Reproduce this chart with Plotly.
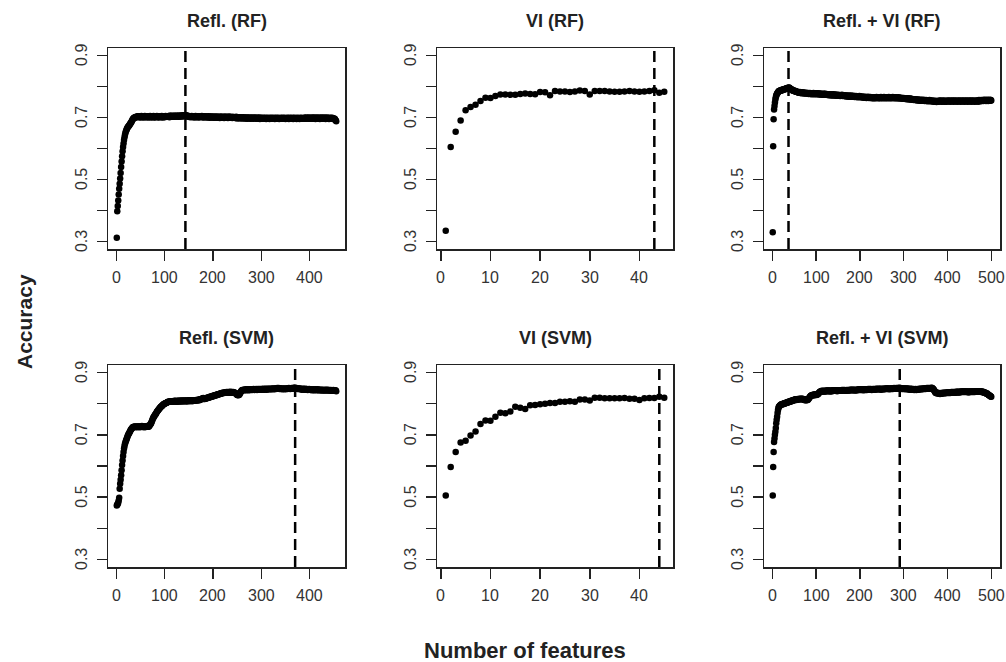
import plotly.graph_objects as go

# ---------------- data (accuracy in per-mille) ----------------
panel_titles = ["Refl. (RF)", "VI (RF)", "Refl. + VI (RF)",
                "Refl. (SVM)", "VI (SVM)", "Refl. + VI (SVM)"]

refl_rf_acc = [
    312,398,415,432,452,470,486,503,521,540,558,575,591,605,616,627,636,644,651,656,
    660,664,667,669,671,673,675,678,680,683,685,688,691,694,696,698,699,700,701,700,
    702,701,703,702,704,
    703,701,704,702,700,703,705,702,701,704,703,700,702,705,703,701,704,702,703,700,
    702,704,701,703,705,702,700,703,704,701,702,705,703,701,700,704,702,703,705,702,
    701,703,700,702,704,702,703,701,705,702,700,703,704,702,701,703,705,704,702,703,
    704,702,705,703,701,704,706,703,702,705,704,702,703,706,704,702,705,703,704,706,
    703,705,704,702,706,705,703,704,706,705,703,707,705,704,706,707,705,708,706,705,
    704,706,703,705,702,704,703,701,704,702,705,703,701,703,704,702,700,703,705,702,
    701,703,702,704,700,702,703,701,704,702,703,705,702,700,703,701,702,704,701,703,
    702,700,703,701,702,704,701,699,702,703,700,702,701,703,700,702,699,701,703,700,
    702,700,701,703,699,701,702,700,698,701,703,700,702,699,701,700,702,698,700,703,
    701,699,700,702,700,698,701,703,699,700,702,699,701,700,698,702,700,699,701,700,
    698,700,702,699,697,700,701,698,700,699,697,701,699,698,700,697,699,701,698,697,
    699,700,697,698,700,696,699,698,700,697,698,699,696,698,700,697,699,698,696,699,
    698,700,697,699,698,696,697,699,698,700,697,695,698,699,697,698,696,699,697,698,
    696,698,699,697,695,698,697,699,696,698,697,695,698,699,697,696,698,697,699,696,
    698,697,695,698,699,696,697,698,696,699,697,695,698,697,696,698,699,697,696,698,
    697,699,696,698,695,697,698,696,699,697,698,695,697,699,696,698,697,696,699,697,
    695,698,697,699,696,697,698,695,697,699,696,698,697,695,698,697,699,696,698,697,
    696,698,697,699,696,698,700,697,696,699,698,697,700,696,698,699,697,696,698,700,
    697,699,696,698,700,697,695,699,698,697,700,696,698,699,697,695,698,700,697,699,
    696,698,697,700,696,699,697,695,698,700,696,697,699,698,695,697,699,696,698,697,
    699,696,698,695,697,694,696,693,690,688,
]

vi_rf_acc = [
    335,605,654,690,723,734,741,753,764,763,769,774,774,773,773,776,777,776,775,782,
    781,772,785,784,784,782,784,787,785,774,785,785,785,784,783,783,784,785,784,783,
    784,785,788,780,783,
]

refl_vi_rf_acc = [
    330,607,694,726,737,748,758,765,771,774,777,779,781,783,785,785,786,787,786,788,
    787,789,788,790,789,791,790,792,791,793,792,794,793,795,794,796,795,797,796,794,
    793,792,791,790,788,789,787,786,787,785,786,784,785,783,784,782,783,781,782,780,
    781,780,782,779,781,780,778,780,779,781,778,779,780,777,779,778,780,777,779,778,
    777,779,776,778,777,779,776,778,777,775,778,776,777,779,776,775,777,778,776,777,
    775,777,776,778,775,776,777,774,776,775,777,774,776,775,773,776,774,775,777,774,
    773,775,774,776,773,774,775,772,774,773,775,772,774,773,771,774,772,773,775,772,
    771,773,772,774,771,772,773,770,772,771,773,770,772,771,769,772,770,771,773,770,
    769,771,770,772,769,770,771,768,770,769,771,768,770,769,767,770,768,769,771,768,
    767,769,768,770,767,768,769,766,768,767,769,766,768,767,765,768,766,767,769,766,
    765,767,766,768,765,766,767,764,766,765,767,764,766,765,763,766,764,765,767,764,
    763,765,764,766,763,764,765,762,764,763,765,762,764,763,765,762,764,766,763,764,
    765,762,764,763,765,762,764,766,763,764,762,765,763,764,766,763,762,764,765,763,
    764,762,765,763,764,766,763,762,765,764,763,765,762,764,766,763,765,764,762,765,
    764,762,765,763,764,762,763,765,762,764,763,761,764,762,763,761,763,762,760,763,
    761,762,760,762,761,759,762,760,761,759,761,760,758,761,759,760,758,760,759,757,
    759,758,756,759,757,758,756,758,757,755,758,756,757,755,757,756,754,757,755,756,
    754,756,755,757,754,755,756,753,755,754,756,753,755,754,752,755,753,754,756,753,
    752,754,753,755,752,753,754,751,753,752,754,751,753,752,750,753,751,752,754,751,
    752,754,753,755,752,753,751,754,752,753,755,752,751,753,754,752,753,751,754,752,
    753,755,752,754,753,751,754,752,753,755,752,754,753,751,754,752,755,753,752,754,
    753,751,754,752,753,755,752,754,753,751,754,752,753,755,752,754,753,751,754,752,
    753,755,752,754,753,751,754,752,753,755,752,754,753,751,754,752,755,753,752,754,
    753,751,754,752,753,755,752,754,753,751,754,756,753,755,752,754,756,753,755,754,
    756,753,755,757,754,756,755,753,756,754,757,755,753,756,754,755,757,754,756,755,
]

refl_svm_acc = [
    473,476,479,482,489,498,527,543,556,570,586,603,618,632,645,656,664,671,676,681,
    685,689,694,698,701,704,707,710,713,716,718,720,722,724,725,726,725,726,727,725,
    726,724,727,726,725,727,726,724,726,727,725,726,728,726,725,727,726,724,726,727,
    725,727,726,728,726,727,726,728,730,733,735,737,741,745,749,753,756,758,761,764,
    766,768,771,774,776,778,780,782,784,786,788,790,791,792,794,795,797,798,799,800,
    801,801,802,803,804,805,806,805,806,807,806,808,807,806,808,807,806,808,807,809,
    808,807,809,808,806,808,809,807,808,810,808,807,809,808,810,809,807,809,808,810,
    809,808,810,809,807,809,810,808,809,811,809,808,810,809,811,810,808,810,809,811,
    810,809,811,810,812,811,810,812,811,813,812,811,813,814,813,815,816,815,817,818,
    815,816,815,817,816,818,817,819,818,820,819,821,820,822,821,823,822,824,823,825,
    824,826,825,827,826,828,827,829,828,830,829,831,830,832,831,833,832,834,833,835,
    834,835,834,836,835,836,835,837,836,835,837,836,835,837,836,838,836,835,837,836,
    836,837,835,836,834,835,833,831,830,828,828,827,829,828,830,833,836,839,841,843,
    844,843,845,844,843,845,844,846,843,845,844,846,845,843,844,846,845,844,846,845,
    844,846,845,847,845,844,846,845,847,846,844,845,847,846,845,847,846,845,847,846,
    845,847,846,848,846,845,847,846,848,847,845,846,848,847,846,848,847,846,848,847,
    846,848,847,849,848,846,847,849,848,847,849,848,850,849,848,850,849,847,849,848,
    847,849,848,846,848,847,849,848,846,848,847,849,848,847,849,848,850,849,848,847,
    849,848,850,849,848,850,849,851,850,851,849,848,850,849,847,849,848,847,849,848,
    846,848,847,845,847,846,848,847,845,846,848,846,845,847,846,844,846,845,847,846,
    845,844,846,845,843,845,844,846,844,843,845,844,846,845,843,844,846,844,843,845,
    844,843,845,844,842,844,845,843,844,842,844,843,845,844,842,843,845,844,843,842,
    844,843,842,844,843,841,843,842,844,843,842,841,843,842,840,
]

vi_svm_acc = [
    505,597,645,675,681,698,711,735,746,745,758,771,769,775,790,787,783,795,796,798,
    800,802,802,806,806,808,806,813,813,810,819,819,817,817,817,817,818,816,816,812,
    817,818,818,822,819,
]

refl_vi_svm_acc = [
    505,597,645,677,688,700,710,722,737,748,758,770,780,786,790,792,793,795,796,797,
    798,797,799,798,800,799,801,800,802,801,803,802,804,803,805,804,806,805,807,806,
    808,807,809,808,810,809,811,810,812,811,813,812,814,813,812,814,813,815,814,813,
    815,814,816,815,814,816,815,814,816,815,813,814,812,813,811,812,813,811,812,813,
    812,814,816,818,820,822,824,825,826,827,826,828,827,829,828,827,829,828,830,829,
    828,830,829,830,832,834,835,837,838,839,840,839,841,840,839,841,840,839,841,840,
    839,841,840,842,841,840,842,841,840,842,841,839,841,840,842,841,840,842,841,843,
    842,841,843,842,841,843,842,840,842,841,843,842,841,843,842,841,843,842,844,843,
    842,844,843,842,844,843,841,843,842,844,843,842,844,843,842,844,843,845,844,843,
    845,844,843,845,844,843,845,844,842,844,843,845,844,843,845,844,846,845,844,846,
    845,844,846,845,844,846,845,843,845,844,846,845,844,846,845,844,846,845,847,846,
    845,847,846,845,847,846,844,846,845,847,846,845,847,846,845,847,846,848,847,846,
    847,846,848,847,846,848,847,845,847,846,848,847,846,848,847,846,848,847,849,848,
    847,849,848,847,849,848,846,848,847,849,848,847,849,848,847,849,848,850,849,848,
    849,848,850,849,848,850,849,848,850,851,849,848,850,849,848,847,849,848,847,849,
    848,847,849,848,846,848,847,849,848,846,848,847,845,847,846,848,847,845,847,846,
    845,847,846,844,846,845,847,846,844,846,845,847,846,845,847,846,848,847,846,848,
    847,846,848,847,849,848,847,849,848,847,849,848,850,849,848,850,849,848,850,849,
    848,850,849,851,850,849,848,846,844,842,839,837,835,834,833,834,833,835,834,833,
    832,833,831,832,834,833,832,834,833,835,834,833,835,834,833,835,834,836,835,834,
    836,835,834,836,835,834,836,835,837,836,835,837,836,835,837,836,835,837,836,838,
    837,836,838,837,836,838,837,836,838,837,839,838,837,839,838,837,839,838,837,839,
    838,837,839,838,837,839,838,836,838,837,839,838,837,839,838,837,839,838,837,839,
    838,837,839,838,840,839,838,840,839,838,840,839,838,840,839,838,837,839,838,837,
    838,836,837,835,836,834,835,833,832,833,831,830,829,828,827,826,825,824,823,822,
]

# selected (optimal) number of features, marked by the dashed line
best_n_features = [143, 43, 37, 370, 44, 291]

x_tick_vals = [
    [0, 100, 200, 300, 400],
    [0, 10, 20, 30, 40],
    [0, 100, 200, 300, 400, 500],
    [0, 100, 200, 300, 400],
    [0, 10, 20, 30, 40],
    [0, 100, 200, 300, 400, 500],
]
y_tick_vals = [0.3, 0.4, 0.5, 0.6, 0.7, 0.8, 0.9]
y_label_vals = [0.3, 0.5, 0.7, 0.9]

series = [refl_rf_acc, vi_rf_acc, refl_vi_rf_acc,
          refl_svm_acc, vi_svm_acc, refl_vi_svm_acc]

# ---------------- layout (pixel geometry of the R multi-panel figure) ----------------
W, H = 1006, 662
col_px = [(108, 345), (437, 673), (764, 1000)]
row_px = [(48, 249), (365, 567)]
FONT = "Liberation Sans, Arial, Helvetica, sans-serif"
TICK_FONT = dict(family=FONT, size=16, color="#333")

fig = go.Figure()
layout = dict(
    width=W, height=H, autosize=False,
    margin=dict(l=0, r=0, t=0, b=0),
    paper_bgcolor="white", plot_bgcolor="white",
    showlegend=False, hovermode=False,
    font=dict(family=FONT, color="#222"),
)
annotations = []
shapes = []

for i, (title, acc) in enumerate(zip(panel_titles, series)):
    r, c = divmod(i, 3)
    idx = "" if i == 0 else str(i + 1)
    xa, ya = "x" + idx, "y" + idx
    n_feat = list(range(1, len(acc) + 1))
    y_vals = [v / 1000 for v in acc]

    fig.add_trace(go.Scatter(
        x=n_feat, y=y_vals, mode="markers",
        marker=dict(color="black", size=6.5, line=dict(width=0)),
        xaxis=xa, yaxis=ya,
    ))

    x0p, x1p = col_px[c]
    y0p, y1p = row_px[r]
    span = n_feat[-1] - n_feat[0]
    xr = [n_feat[0] - 0.04 * span, n_feat[-1] + 0.04 * span]

    axis_common = dict(
        showline=True, linecolor="#222", linewidth=1.5, mirror=True,
        ticks="outside", ticklen=10, tickwidth=1.5, tickcolor="#222",
        showgrid=False, zeroline=False, showticklabels=False,
    )
    layout["xaxis" + idx] = dict(
        axis_common,
        domain=[x0p / W, x1p / W], range=xr, anchor=ya,
        tickmode="array", tickvals=x_tick_vals[i],
    )
    layout["yaxis" + idx] = dict(
        axis_common,
        domain=[1 - y1p / H, 1 - y0p / H], range=[0.276, 0.924], anchor=xa,
        tickmode="array", tickvals=y_tick_vals,
    )

    # tick labels placed like R's axis() labels
    for tv in x_tick_vals[i]:
        annotations.append(dict(
            text=str(tv), xref=xa, yref="paper",
            x=tv, y=1 - (y1p + 28.5) / H,
            xanchor="center", yanchor="middle", showarrow=False,
            font=TICK_FONT,
        ))
    for tv in y_label_vals:
        annotations.append(dict(
            text="%.1f" % tv, xref="paper", yref=ya,
            x=(x0p - 26.5) / W, y=tv, textangle=-90,
            xanchor="center", yanchor="middle", showarrow=False,
            font=TICK_FONT,
        ))

    shapes.append(dict(
        type="line", xref=xa, yref=ya + " domain",
        x0=best_n_features[i], x1=best_n_features[i], y0=0, y1=1,
        line=dict(color="black", width=2.5, dash="11px,6px"),
    ))

    annotations.append(dict(
        text="<b>%s</b>" % title, xref="paper", yref="paper",
        x=(x0p + x1p) / 2 / W, y=1 - (y0p - 27) / H,
        xanchor="center", yanchor="middle", showarrow=False,
        font=dict(family=FONT, size=18, color="#222"),
    ))

annotations.append(dict(
    text="<b>Accuracy</b>", xref="paper", yref="paper",
    x=24 / W, y=1 - 322 / H, textangle=-90,
    xanchor="center", yanchor="middle", showarrow=False,
    font=dict(family=FONT, size=21, color="#222"),
))
annotations.append(dict(
    text="<b>Number of features</b>", xref="paper", yref="paper",
    x=525 / W, y=1 - 650 / H,
    xanchor="center", yanchor="middle", showarrow=False,
    font=dict(family=FONT, size=22, color="#222"),
))

layout["annotations"] = annotations
layout["shapes"] = shapes
fig.update_layout(**layout)
fig.write_html(
    "out.html",
    config={"displayModeBar": False, "staticPlot": True},
    post_script="document.body.style.margin='0';document.body.style.overflow='hidden';",
)
